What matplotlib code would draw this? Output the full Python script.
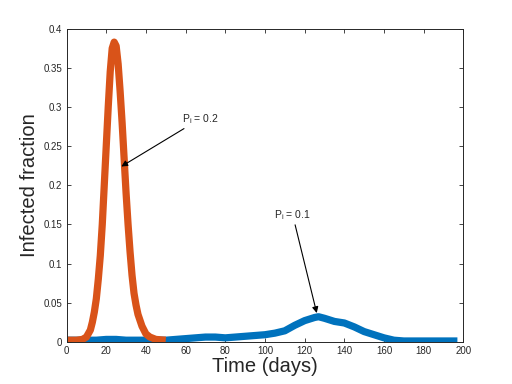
import matplotlib
matplotlib.use("Agg")
import matplotlib.pyplot as plt
from matplotlib.ticker import FixedLocator, FuncFormatter

plt.rcParams['font.family'] = ['Liberation Sans', 'DejaVu Sans']
plt.rcParams['mathtext.fontset'] = 'custom'
plt.rcParams['mathtext.rm'] = 'Liberation Sans'

# Orange series (P_i = 0.2)
t_orange = [0, 5, 8, 10, 12, 13, 14, 15, 16, 17, 18, 19, 20, 21, 22, 23, 24, 25,
            26, 27, 28, 29, 30, 31, 32, 33, 34, 35, 36, 38, 40, 42, 45, 50]
v_orange = [0.002, 0.002, 0.003, 0.006, 0.015, 0.025, 0.038, 0.055, 0.08, 0.11,
            0.15, 0.2, 0.25, 0.3, 0.345, 0.375, 0.383, 0.378, 0.355, 0.32, 0.28,
            0.235, 0.19, 0.15, 0.115, 0.085, 0.062, 0.047, 0.035, 0.02, 0.01,
            0.006, 0.003, 0.002]

# Blue series (P_i = 0.1)
t_blue = [0, 5, 10, 15, 20, 25, 30, 35, 40, 45, 50, 55, 60, 65, 70, 75, 80, 85,
          90, 95, 100, 105, 110, 115, 120, 125, 127, 130, 135, 140, 145, 150,
          155, 160, 165, 170, 175, 180, 185, 190, 195, 197]
v_blue = [0.002, 0.002, 0.002, 0.002, 0.003, 0.003, 0.002, 0.002, 0.002, 0.002,
          0.002, 0.003, 0.004, 0.005, 0.006, 0.006, 0.005, 0.006, 0.007, 0.008,
          0.009, 0.011, 0.014, 0.021, 0.027, 0.031, 0.032, 0.030, 0.026, 0.024,
          0.019, 0.013, 0.009, 0.005, 0.002, 0.001, 0.001, 0.001, 0.001, 0.001,
          0.001, 0.001]

x_ticks = [0, 20, 40, 60, 80, 100, 120, 140, 160, 180, 200]
y_ticks = [0, 0.05, 0.1, 0.15, 0.2, 0.25, 0.3, 0.35, 0.4]

fig = plt.figure(figsize=(5.12, 3.84), dpi=100)
ax = fig.add_axes([0.13, 0.11, 0.775, 0.815])

ax.plot(t_blue, v_blue, color='#0072BD', lw=5.2, solid_capstyle='butt')
ax.plot(t_orange, v_orange, color='#D95319', lw=5.2, solid_capstyle='butt')

ax.set_xlim(0, 200)
ax.set_ylim(0, 0.4)
ax.xaxis.set_major_locator(FixedLocator(x_ticks))
ax.yaxis.set_major_locator(FixedLocator(y_ticks))
ax.yaxis.set_major_formatter(FuncFormatter(lambda v, p: ('%g' % v)))
ax.tick_params(direction='in', top=True, right=True, length=3, width=0.6,
               labelsize=7, colors='#262626', pad=3)
for s in ax.spines.values():
    s.set_linewidth(0.7)
    s.set_color('#262626')

ax.set_xlabel('Time (days)', fontsize=14.5, color='#262626', labelpad=1)
ax.set_ylabel('Infected fraction', fontsize=14.5, color='#262626', labelpad=3)

ax.annotate('P$_\\mathregular{i}$ = 0.2', xy=(27.6, 0.224), xytext=(58.0, 0.276),
            fontsize=7.5, color='#262626', ha='left', va='bottom',
            arrowprops=dict(arrowstyle='-|>', color='black', lw=0.8,
                            mutation_scale=9, shrinkA=0, shrinkB=0))
ax.annotate('P$_\\mathregular{i}$ = 0.1', xy=(126.1, 0.0367), xytext=(114.0, 0.153),
            fontsize=7.5, color='#262626', ha='center', va='bottom',
            arrowprops=dict(arrowstyle='-|>', color='black', lw=0.8,
                            mutation_scale=9, shrinkA=0, shrinkB=0))

fig.savefig('out.png', dpi=100)
